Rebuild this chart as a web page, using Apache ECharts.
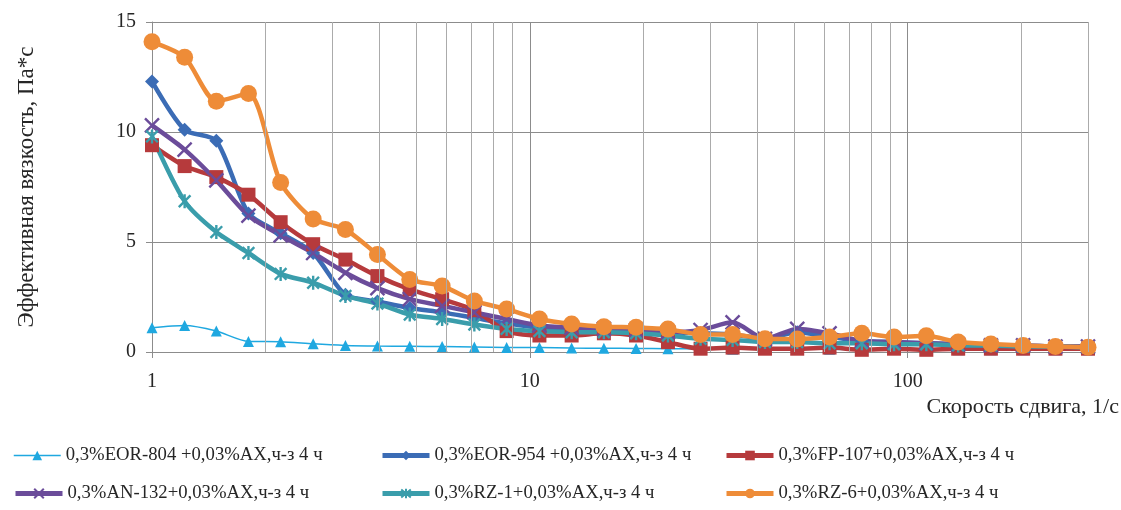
<!DOCTYPE html>
<html><head><meta charset="utf-8">
<script src="https://cdn.jsdelivr.net/npm/echarts@6/dist/echarts.min.js"></script>
<style>html,body{margin:0;padding:0;background:#fff}#c{width:1121px;height:510px}</style>
</head><body><div id="c"></div>
<script>
// Shear rate, 1/s
const shearRate = [1, 1.22, 1.48, 1.80, 2.19, 2.67, 3.25, 3.95, 4.81, 5.86, 7.13, 8.68, 10.6, 12.9, 15.7, 19.1, 23.2, 28.3, 34.4, 41.9, 51.0, 62.1, 75.6, 92.0, 112, 136, 166, 202, 246, 300];
// Effective viscosity, Pa*s
const eor804 = [1.1, 1.2, 0.95, 0.48, 0.47, 0.37, 0.3, 0.27, 0.26, 0.25, 0.23, 0.21, 0.2, 0.18, 0.17, 0.16, 0.15, 0.14, 0.13, 0.13, 0.12, 0.12, 0.11, 0.11, 0.1, 0.1, 0.1, 0.1, 0.1, 0.1];
const eor954 = [12.3, 10.1, 9.6, 6.3, 5.4, 4.5, 2.6, 2.3, 2.0, 1.8, 1.55, 1.3, 1.1, 1.0, 1.0, 0.95, 0.9, 0.85, 0.8, 0.6, 0.9, 0.7, 0.5, 0.45, 0.4, 0.35, 0.3, 0.3, 0.25, 0.25];
const fp107 = [9.4, 8.45, 7.95, 7.15, 5.9, 4.9, 4.2, 3.45, 2.85, 2.4, 1.9, 0.95, 0.75, 0.75, 0.85, 0.75, 0.45, 0.15, 0.2, 0.15, 0.15, 0.2, 0.1, 0.15, 0.1, 0.15, 0.15, 0.15, 0.15, 0.15];
const an132 = [10.3, 9.2, 7.8, 6.2, 5.3, 4.5, 3.6, 2.9, 2.4, 2.1, 1.8, 1.5, 1.2, 1.1, 1.05, 1.0, 0.9, 1.0, 1.35, 0.6, 1.05, 0.85, 0.5, 0.45, 0.4, 0.35, 0.3, 0.3, 0.25, 0.25];
const rz1 = [9.8, 6.85, 5.45, 4.5, 3.55, 3.15, 2.55, 2.2, 1.7, 1.5, 1.25, 1.05, 0.95, 0.9, 0.9, 0.85, 0.75, 0.6, 0.55, 0.45, 0.45, 0.4, 0.4, 0.35, 0.35, 0.3, 0.3, 0.25, 0.25, 0.2];
const rz6 = [14.1, 13.4, 11.4, 11.75, 7.7, 6.05, 5.57, 4.43, 3.3, 3.0, 2.32, 1.95, 1.5, 1.27, 1.15, 1.12, 1.04, 0.8, 0.8, 0.6, 0.59, 0.68, 0.85, 0.68, 0.74, 0.45, 0.36, 0.3, 0.25, 0.22];

const names = [
  '0,3%EOR-804 +0,03%AX,ч-з 4 ч',
  '0,3%EOR-954 +0,03%AX,ч-з 4 ч',
  '0,3%FP-107+0,03%AX,ч-з 4 ч',
  '0,3%AN-132+0,03%AX,ч-з 4 ч',
  '0,3%RZ-1+0,03%AX,ч-з 4 ч',
  '0,3%RZ-6+0,03%AX,ч-з 4 ч'
];
const minorGridX = [2, 3, 4, 5, 6, 7, 8, 9, 20, 30, 40, 50, 60, 70, 80, 90, 200, 300];
const xTitle = 'Скорость сдвига, 1/с';
const yTitle = 'Эффективная вязкость, Па*с';

const FONT = '"Liberation Serif", "DejaVu Serif", serif';
const pathX = 'path://M0,0L10,10M10,0L0,10';
const pathStar = 'path://M0,0L10,10M10,0L0,10M5,-1L5,11';

function pts(arr) { return shearRate.map((x, i) => [x, arr[i]]); }
function mk(name, data, color, symbol, size, width, strokeSym) {
  return {
    name, type: 'line', data: pts(data), smooth: 0.25,
    symbol, symbolSize: size, symbolKeepAspect: true,
    lineStyle: { color, width },
    itemStyle: strokeSym ? { color, borderColor: color, borderWidth: 2.4 } : { color },
    emphasis: { disabled: true }, z: 3
  };
}
// legend positions: [left, top] for each series
const legendPos = [[13, 446], [380, 446], [724, 446], [13, 484], [380, 484], [724, 484]];
const legendLineW = [1.5, 5, 5, 5, 5, 5];

const chart = echarts.init(document.getElementById('c'), null, { renderer: 'canvas' });
chart.setOption({
  animation: false,
  backgroundColor: '#fff',
  grid: { left: 152, right: 33, top: 22, bottom: 158 },
  xAxis: {
    type: 'log', logBase: 10, min: 1, max: 300,
    axisLine: { show: true, lineStyle: { color: '#8c8c8c', width: 1 } },
    axisTick: { show: true, length: 6, lineStyle: { color: '#8c8c8c' } },
    axisLabel: { fontFamily: FONT, fontSize: 20, color: '#262626', margin: 20, showMaxLabel: false },
    splitLine: { show: true, lineStyle: { color: '#8c8c8c', width: 1 } }
  },
  yAxis: {
    type: 'value', min: 0, max: 15, interval: 5,
    name: yTitle, nameLocation: 'middle', nameGap: 114, nameRotate: 90,
    nameTextStyle: { fontFamily: FONT, fontSize: 23, color: '#262626' },
    axisLine: { show: true, lineStyle: { color: '#8c8c8c', width: 1 } },
    axisTick: { show: true, length: 6, lineStyle: { color: '#8c8c8c' } },
    axisLabel: { fontFamily: FONT, fontSize: 20, color: '#262626', margin: 16 },
    splitLine: { show: true, lineStyle: { color: '#8c8c8c', width: 1 } }
  },
  legend: names.map((n, i) => ({
    left: legendPos[i][0], top: legendPos[i][1], orient: 'horizontal', padding: 0,
    itemWidth: 47, itemHeight: 12, selectedMode: false,
    data: [{ name: n, lineStyle: { width: legendLineW[i] } }],
    textStyle: { fontFamily: FONT, fontSize: 18.7, color: '#262626' }
  })),
  graphic: [{
    type: 'text', right: 2, top: 396,
    style: { text: xTitle, font: '22px "Liberation Serif"', fill: '#262626' }
  }],
  series: [
    {
      type: 'line', data: [], silent: true, z: 1,
      markLine: {
        silent: true, symbol: 'none', label: { show: false },
        lineStyle: { color: '#ababab', width: 1, type: 'solid' },
        data: minorGridX.map(v => ({ xAxis: v }))
      }
    },
    mk(names[0], eor804, '#1fa8e0', 'triangle', 11, 1.5, false),
    mk(names[1], eor954, '#3b6cb5', 'diamond', 14, 4.5, false),
    mk(names[2], fp107, '#b63a3c', 'rect', 14, 4.5, false),
    mk(names[3], an132, '#6b4c9a', pathX, 14, 4.5, true),
    mk(names[4], rz1, '#3a9dab', pathStar, 14, 4.5, true),
    mk(names[5], rz6, '#ee8c38', 'circle', 17, 4.5, false)
  ]
});
</script></body></html>
